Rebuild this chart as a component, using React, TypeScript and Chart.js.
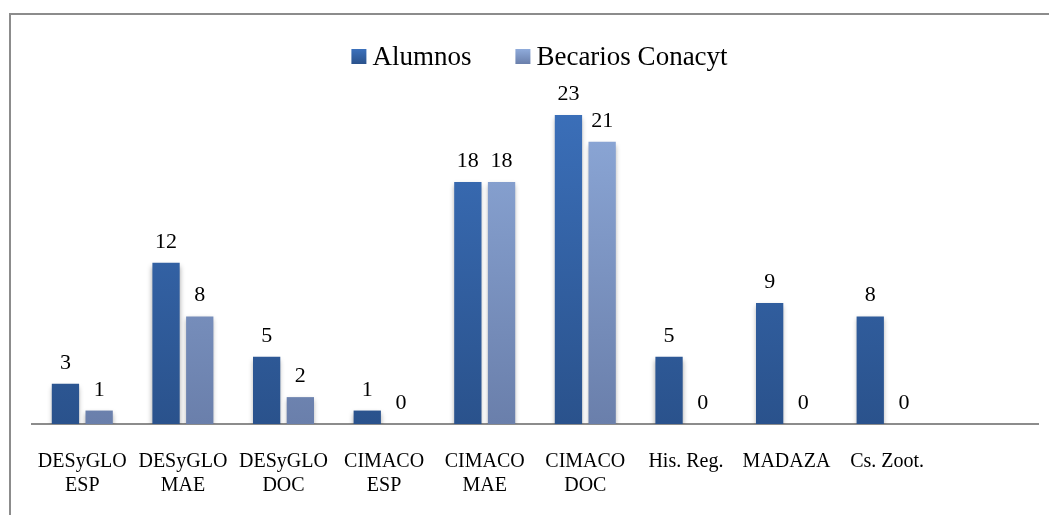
import React, { useEffect, useRef } from "react";
import { Chart, registerables } from "chart.js";

Chart.register(...registerables);

const categories: (string | string[])[] = [
  ["DESyGLO", "ESP"],
  ["DESyGLO", "MAE"],
  ["DESyGLO", "DOC"],
  ["CIMACO", "ESP"],
  ["CIMACO", "MAE"],
  ["CIMACO", "DOC"],
  "His. Reg.",
  "MADAZA",
  "Cs. Zoot.",
  "",
];
const alumnos: (number | null)[] = [3, 12, 5, 1, 18, 23, 5, 9, 8, null];
const becarios: (number | null)[] = [1, 8, 2, 0, 18, 21, 0, 0, 0, null];
const seriesNames = ["Alumnos", "Becarios Conacyt"];

const FONT = "'Liberation Serif', 'DejaVu Serif', serif";

const darkTop = "#3c71bc";
const darkBottom = "#2a528c";
const lightTop = "#8fabdb";
const lightBottom = "#6a7fab";

function gradientFor(top: string, bottom: string) {
  return (ctx: any) => {
    const chart = ctx.chart;
    const area = chart.chartArea;
    if (!area) return top;
    const el = ctx.element;
    const y0 = el && typeof el.y === "number" ? el.y : area.top;
    const y1 = el && typeof el.base === "number" ? el.base : area.bottom;
    if (!isFinite(y0) || !isFinite(y1) || y0 === y1) return top;
    const g = chart.ctx.createLinearGradient(0, y0, 0, y1);
    g.addColorStop(0, top);
    g.addColorStop(1, bottom);
    return g;
  };
}

const framePlugin = {
  id: "frame",
  beforeDraw(chart: any) {
    const c = chart.ctx;
    c.save();
    c.fillStyle = "#ffffff";
    c.fillRect(0, 0, chart.width, chart.height);
    c.strokeStyle = "#8c8c8c";
    c.lineWidth = 2;
    c.beginPath();
    c.moveTo(10, chart.height);
    c.lineTo(10, 14);
    c.lineTo(chart.width, 14);
    c.stroke();
    c.restore();
  },
};

const shadowPlugin = {
  id: "barShadow",
  beforeDatasetsDraw(chart: any) {
    const c = chart.ctx;
    c.save();
    c.shadowColor = "rgba(0,0,0,0.35)";
    c.shadowBlur = 5;
    c.shadowOffsetX = 0;
    c.shadowOffsetY = 3;
  },
  afterDatasetsDraw(chart: any) {
    chart.ctx.restore();
  },
};

const labelsPlugin = {
  id: "valueLabels",
  afterDatasetsDraw(chart: any) {
    const c = chart.ctx;
    c.save();
    c.font = `22px ${FONT}`;
    c.fillStyle = "#000000";
    c.textAlign = "center";
    c.textBaseline = "alphabetic";
    chart.data.datasets.forEach((ds: any, di: number) => {
      const meta = chart.getDatasetMeta(di);
      meta.data.forEach((bar: any, i: number) => {
        const v = ds.data[i];
        if (v === null || v === undefined) return;
        c.fillText(String(v), bar.x, bar.y - 15);
      });
    });
    c.restore();
  },
};

const legendPlugin = {
  id: "customLegend",
  afterDraw(chart: any) {
    const c = chart.ctx;
    c.save();
    c.font = `27px ${FONT}`;
    c.textBaseline = "alphabetic";
    const box = 15;
    const gapBoxText = 6;
    const gapItems = 44;
    const items = chart.data.datasets.map((ds: any, i: number) => ({
      label: ds.label,
      top: i === 0 ? darkTop : lightTop,
      bottom: i === 0 ? darkBottom : lightBottom,
      w: c.measureText(ds.label).width,
    }));
    let total = 0;
    items.forEach((it: any, i: number) => {
      total += box + gapBoxText + it.w + (i < items.length - 1 ? gapItems : 0);
    });
    let x = 539.5 - total / 2;
    const boxTop = 49;
    items.forEach((it: any) => {
      const g = c.createLinearGradient(0, boxTop, 0, boxTop + box);
      g.addColorStop(0, it.top);
      g.addColorStop(1, it.bottom);
      c.fillStyle = g;
      c.fillRect(x, boxTop, box, box);
      c.fillStyle = "#000000";
      c.fillText(it.label, x + box + gapBoxText, 65);
      x += box + gapBoxText + it.w + gapItems;
    });
    c.restore();
  },
};

export default function App() {
  const ref = useRef<HTMLCanvasElement | null>(null);
  useEffect(() => {
    if (!ref.current) return;
    const chart = new Chart(ref.current, {
      type: "bar",
      data: {
        labels: categories,
        datasets: [
          {
            label: seriesNames[0],
            data: alumnos,
            backgroundColor: gradientFor(darkTop, darkBottom),
            categoryPercentage: 0.67,
            barPercentage: 0.81,
          },
          {
            label: seriesNames[1],
            data: becarios,
            backgroundColor: gradientFor(lightTop, lightBottom),
            categoryPercentage: 0.67,
            barPercentage: 0.81,
          },
        ],
      },
      options: {
        animation: false,
        responsive: false,
        maintainAspectRatio: false,
        layout: { padding: { left: 32, right: 11, top: 88, bottom: 0 } },
        plugins: {
          legend: { display: false },
          tooltip: { enabled: false },
          title: { display: false },
        },
        scales: {
          y: {
            display: false,
            min: 0,
            max: 25,
          },
          x: {
            grid: { display: false, drawTicks: false },
            border: { display: true, color: "#8c8c8c", width: 2 },
            afterFit: (scale: any) => {
              scale.height = 91;
            },
            ticks: {
              color: "#000000",
              font: { family: FONT, size: 20, lineHeight: 1.2 },
              padding: 26,
              maxRotation: 0,
              autoSkip: false,
            },
          },
        },
      },
      plugins: [framePlugin, shadowPlugin, labelsPlugin, legendPlugin],
    });
    return () => chart.destroy();
  }, []);
  return (
    <div style={{ position: "fixed", left: 0, top: 0, width: 1049, height: 515 }}>
      <canvas ref={ref} width={1049} height={515} style={{ width: 1049, height: 515, display: "block" }} />
    </div>
  );
}
